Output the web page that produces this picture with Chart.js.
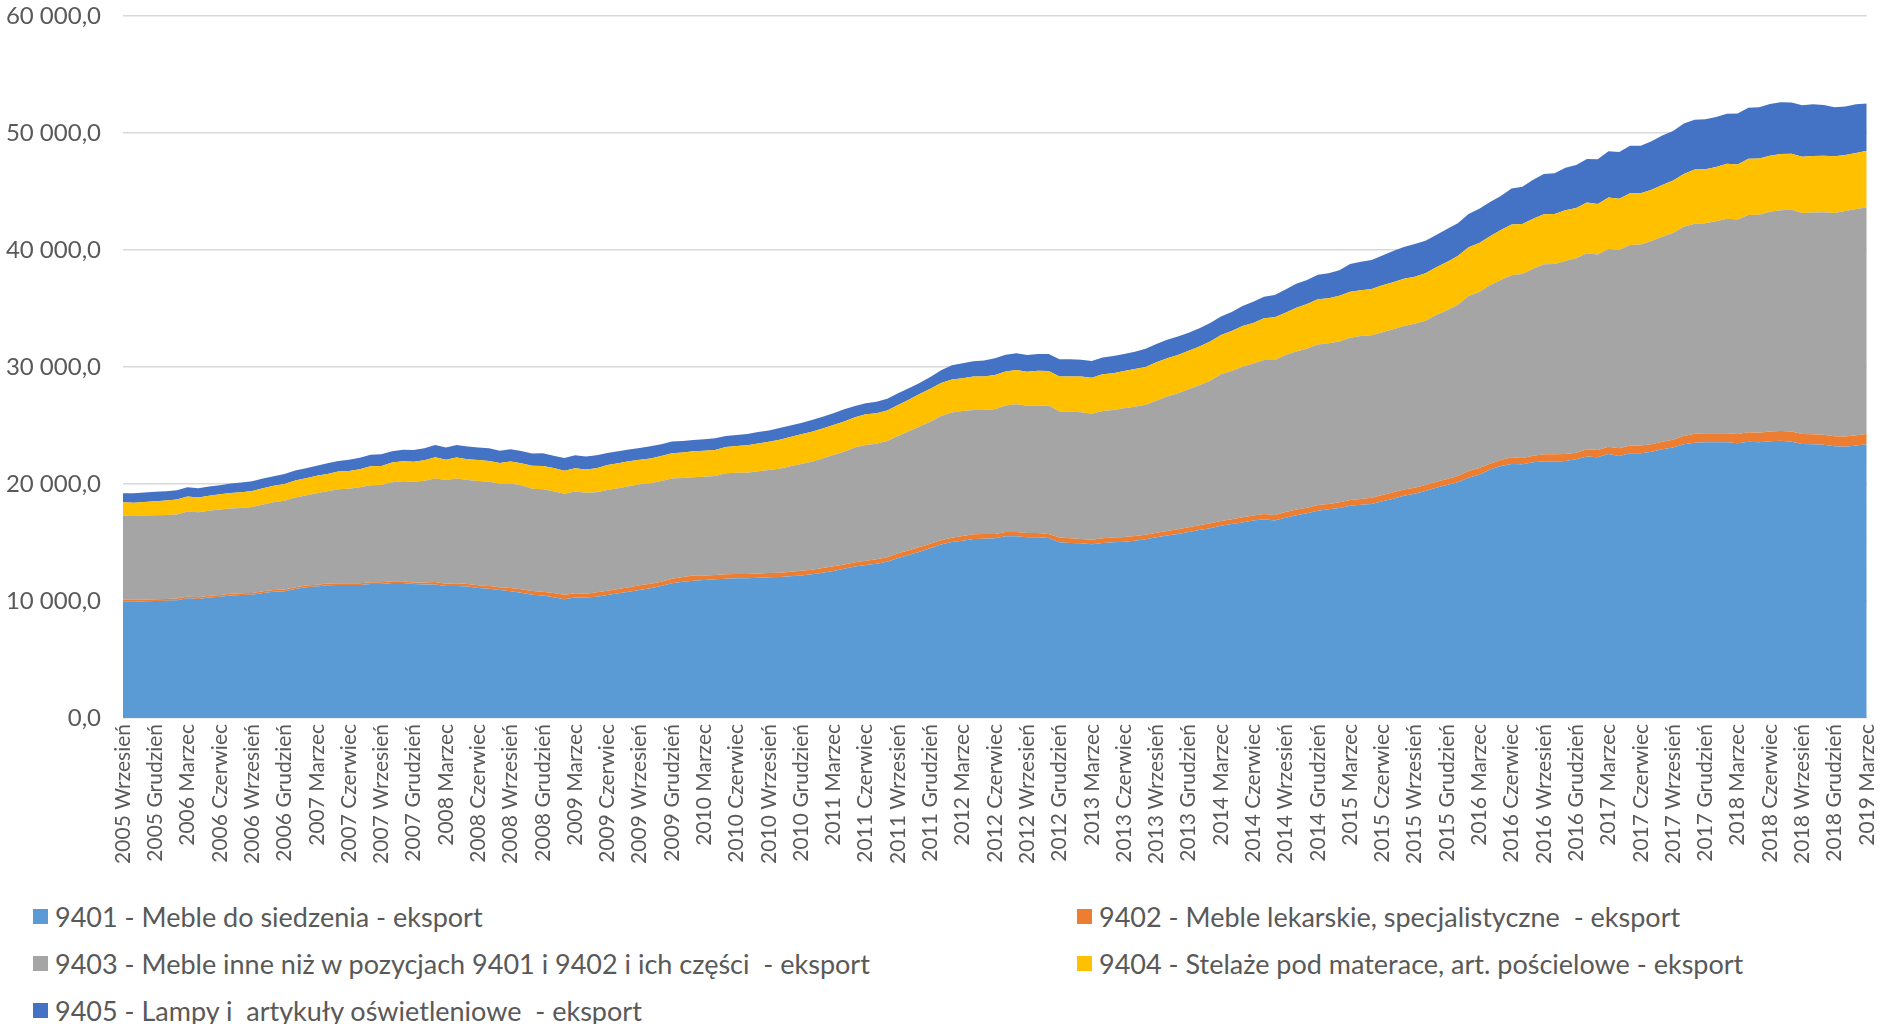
<!DOCTYPE html>
<html lang="pl">
<head>
<meta charset="utf-8">
<title>Eksport mebli 9401-9405</title>
<script src="https://cdn.jsdelivr.net/npm/chart.js@4.4.1/dist/chart.umd.min.js"></script>
<style>
  html, body { margin: 0; background: #fff; }
  .wrap { position: relative; width: 1898px; height: 1024px; overflow: hidden; }
  .chart-box { position: absolute; left: 0; top: 0; width: 1898px; height: 880px; }
  #legend {
    position: absolute; left: 33px; top: 893px; margin: 0; padding: 0; list-style: none;
    display: grid; grid-template-columns: 1044px 800px;
  }
  #legend li {
    display: flex; align-items: center; height: 47px;
    font: 27px Lato, sans-serif; color: #595959; white-space: pre;
  }
  #legend .box { width: 15px; height: 15px; margin-right: 7px; flex: none; }
</style>
</head>
<body>
<div class="wrap">
  <div class="chart-box"><canvas id="chart"></canvas></div>
  <ul id="legend"></ul>
</div>
<script>
// monthly series, first point = 2005 Wrzesień, last = 2019 Marzec
const monthNames = ["Styczeń", "Luty", "Marzec", "Kwiecień", "Maj", "Czerwiec",
  "Lipiec", "Sierpień", "Wrzesień", "Październik", "Listopad", "Grudzień"];
const firstYear = 2005;
const firstMonth = 8; // Wrzesień

const eksport9401 = [
  9940, 9940, 9970, 10000, 10030, 10060, 10230, 10170, 10290, 10370, 10460, 10510, 10540, 10680, 10800, 10830, 11030, 11170, 11230, 11340, 11370, 11370, 11370, 11450, 11450, 11540, 11540,
  11450, 11420, 11420, 11280, 11280, 11230, 11110, 11050, 10940, 10830, 10710, 10540, 10460, 10310, 10140, 10290, 10290, 10370, 10510, 10660, 10800, 10940, 11080, 11280, 11510, 11650, 11740,
  11800, 11850, 11910, 11940, 11940, 11990, 12020, 12050, 12110, 12190, 12280, 12420, 12560, 12760, 12940, 13080, 13190, 13360, 13680, 13930, 14220, 14500, 14820, 15040, 15160, 15300, 15330,
  15360, 15530, 15530, 15440, 15440, 15390, 15020, 14960, 14930, 14840, 14960, 15020, 15070, 15160, 15270, 15440, 15590, 15730, 15900, 16070, 16210, 16440, 16580, 16720, 16870, 16980, 16870,
  17120, 17320, 17490, 17720, 17840, 17950, 18150, 18230, 18290, 18520, 18750, 19000, 19170, 19400, 19690, 19910, 20140, 20540, 20800, 21230, 21540, 21710, 21680, 21850, 21940, 21910,
  21970, 22110, 22340, 22280, 22560, 22390, 22620, 22620, 22760, 22960, 23110, 23390, 23530, 23560, 23560, 23560, 23480, 23620, 23560, 23650, 23700, 23620, 23420, 23390, 23360, 23220, 23190, 23280, 23390
];
const eksport9402 = [
  170, 170, 150, 150, 150, 150, 150, 150, 150, 150, 150, 150, 150, 150, 150, 150, 150, 150, 150, 150, 150, 140, 150, 150, 150, 150, 150,
  140, 170, 200, 200, 230, 230, 230, 230, 230, 290, 290, 310, 340, 370, 400, 370, 340, 370, 370, 370, 370, 400, 400, 370, 400, 400, 430,
  370, 370, 370, 370, 370, 370, 370, 370, 400, 400, 400, 400, 400, 370, 370, 370, 370, 370, 400, 400, 400, 400, 370, 370, 400, 400, 400,
  370, 370, 370, 370, 370, 340, 400, 400, 370, 400, 400, 400, 400, 400, 400, 400, 400, 400, 400, 400, 430, 400, 400, 430, 430, 460, 480,
  480, 510, 480, 480, 460, 480, 480, 480, 540, 540, 540, 540, 510, 510, 510, 510, 540, 570, 570, 510, 510, 570, 540, 570, 600, 630,
  600, 570, 630, 630, 630, 660, 660, 660, 630, 660, 680, 710, 770, 770, 770, 770, 800, 800, 830, 830, 830, 860, 860, 860, 860, 860, 860, 880, 880
];
const eksport9403 = [
  7180, 7150, 7180, 7180, 7180, 7180, 7270, 7270, 7270, 7290, 7290, 7290, 7350, 7410, 7490, 7580, 7660, 7690, 7840, 7890, 8030, 8090, 8210, 8290, 8320, 8460, 8550,
  8600, 8690, 8860, 8860, 8950, 8890, 8920, 8920, 8860, 8920, 8890, 8750, 8750, 8690, 8630, 8690, 8630, 8550, 8600, 8600, 8630, 8630, 8580, 8600, 8550, 8460, 8410,
  8460, 8460, 8630, 8660, 8660, 8720, 8800, 8890, 9000, 9120, 9230, 9370, 9520, 9630, 9800, 9890, 9890, 9940, 10030, 10170, 10290, 10430, 10630, 10710, 10680, 10630, 10600,
  10660, 10800, 10910, 10880, 10880, 10970, 10770, 10830, 10830, 10770, 10880, 10910, 11000, 11050, 11110, 11280, 11480, 11620, 11800, 11970, 12190, 12540, 12680, 12880, 12990, 13160, 13250,
  13420, 13500, 13620, 13730, 13730, 13760, 13880, 13930, 13880, 13900, 13930, 13960, 14020, 14050, 14250, 14420, 14620, 14960, 15040, 15240, 15390, 15560, 15730, 15980, 16240, 16270,
  16500, 16610, 16750, 16700, 16900, 16950, 17150, 17180, 17380, 17520, 17660, 17890, 17950, 17950, 18120, 18350, 18320, 18580, 18630, 18780, 18860, 18950, 18890, 18950, 19000, 19090, 19290, 19350, 19370
];
const eksport9404 = [
  1140, 1140, 1170, 1200, 1230, 1280, 1280, 1250, 1280, 1310, 1340, 1340, 1370, 1400, 1400, 1430, 1450, 1480, 1480, 1480, 1510, 1510, 1540, 1620, 1620, 1680, 1710,
  1710, 1740, 1800, 1740, 1800, 1770, 1800, 1770, 1770, 1880, 1880, 1970, 1990, 1990, 1970, 1990, 1990, 2050, 2140, 2140, 2140, 2110, 2110, 2140, 2170, 2190, 2220,
  2220, 2220, 2250, 2280, 2340, 2390, 2420, 2480, 2510, 2540, 2560, 2560, 2560, 2590, 2590, 2620, 2590, 2620, 2650, 2710, 2790, 2820, 2820, 2820, 2790, 2850, 2850,
  2930, 2910, 2930, 2910, 2990, 2960, 2990, 2990, 3050, 3080, 3130, 3130, 3190, 3220, 3220, 3280, 3280, 3280, 3280, 3310, 3360, 3360, 3420, 3480, 3480, 3560, 3650,
  3620, 3730, 3790, 3850, 3850, 3900, 3930, 3930, 3960, 4020, 4020, 4050, 4020, 4050, 4070, 4130, 4190, 4160, 4190, 4190, 4270, 4330, 4270, 4270, 4270, 4270,
  4330, 4300, 4330, 4330, 4390, 4390, 4420, 4390, 4390, 4420, 4500, 4500, 4620, 4620, 4640, 4700, 4700, 4790, 4790, 4790, 4820, 4790, 4790, 4840, 4840, 4840, 4790, 4790, 4840
];
const eksport9405 = [
  770, 800, 800, 800, 800, 800, 800, 800, 800, 770, 800, 830, 830, 830, 830, 860, 860, 860, 860, 910, 910, 970, 970, 1000, 1000, 970, 970,
  1000, 1030, 1050, 1030, 1080, 1080, 1050, 1080, 1050, 1050, 1050, 1030, 1080, 1050, 1080, 1110, 1110, 1110, 1030, 1030, 1000, 1000, 1050, 1000, 1000, 970, 970,
  970, 1000, 940, 940, 970, 970, 970, 1000, 970, 970, 1000, 1000, 1000, 1030, 970, 940, 1000, 1000, 1000, 970, 940, 1000, 1080, 1200, 1280, 1310, 1370,
  1430, 1430, 1430, 1430, 1430, 1450, 1480, 1480, 1430, 1430, 1450, 1480, 1450, 1480, 1570, 1570, 1570, 1570, 1540, 1570, 1570, 1570, 1620, 1710, 1800, 1850, 1910,
  1990, 2050, 2050, 2110, 2140, 2170, 2370, 2420, 2480, 2560, 2680, 2710, 2790, 2790, 2760, 2820, 2790, 2850, 2930, 2930, 2910, 3080, 3190, 3330, 3450, 3480,
  3620, 3680, 3730, 3820, 3960, 3990, 4050, 4050, 4130, 4220, 4220, 4330, 4270, 4270, 4270, 4270, 4360, 4360, 4390, 4420, 4420, 4390, 4420, 4420, 4330, 4190, 4130, 4160, 4050
];

const seriesNames = [
  "9401 - Meble do siedzenia - eksport",
  "9402 - Meble lekarskie, specjalistyczne  - eksport",
  "9403 - Meble inne niż w pozycjach 9401 i 9402 i ich części  - eksport",
  "9404 - Stelaże pod materace, art. pościelowe - eksport",
  "9405 - Lampy i  artykuły oświetleniowe  - eksport"
];
const seriesColors = ["#5b9bd5", "#ed7d31", "#a5a5a5", "#ffc000", "#4472c4"];
const seriesData = [eksport9401, eksport9402, eksport9403, eksport9404, eksport9405];

const labels = eksport9401.map((_, i) => {
  const m = firstMonth + i;
  return firstYear + Math.floor(m / 12) + " " + monthNames[m % 12];
});

const formatPl = (v) => String(v).replace(/\B(?=(\d{3})+(?!\d))/g, " ") + ",0";

const htmlLegend = {
  id: "htmlLegend",
  afterUpdate(chart) {
    const list = document.getElementById("legend");
    list.innerHTML = "";
    chart.data.datasets.forEach((ds) => {
      const li = document.createElement("li");
      const box = document.createElement("span");
      box.className = "box";
      box.style.background = ds.backgroundColor;
      li.appendChild(box);
      li.appendChild(document.createTextNode(ds.label));
      list.appendChild(li);
    });
  },
};

new Chart(document.getElementById("chart"), {
  type: "line",
  data: {
    labels: labels,
    datasets: seriesData.map((data, i) => ({
      label: seriesNames[i],
      data: data,
      backgroundColor: seriesColors[i],
      borderColor: seriesColors[i],
      borderWidth: 0,
      pointRadius: 0,
      tension: 0,
      fill: i === 0 ? "origin" : "-1",
    })),
  },
  options: {
    responsive: true,
    maintainAspectRatio: false,
    animation: false,
    layout: { padding: { top: 0, right: 17, left: 0, bottom: 0 } },
    plugins: {
      legend: { display: false },
      tooltip: { enabled: false },
    },
    scales: {
      x: {
        grid: { display: false, drawTicks: false },
        border: { display: false },
        ticks: {
          autoSkip: false,
          minRotation: 90,
          maxRotation: 90,
          padding: 6,
          color: "#595959",
          font: { family: "Lato", size: 21 },
          callback: function (value, index) {
            return index % 3 === 0 ? this.getLabelForValue(value) : "";
          },
        },
        afterFit: (scale) => { scale.height = 162; },
      },
      y: {
        stacked: true,
        min: 0,
        max: 60000,
        grid: { color: "#d9d9d9", lineWidth: 1.5, drawTicks: false },
        border: { display: false },
        ticks: {
          stepSize: 10000,
          padding: 22,
          color: "#595959",
          font: { family: "Lato", size: 24 },
          callback: (v) => formatPl(v),
        },
        afterFit: (scale) => {
          scale.width = 123;
          scale.paddingTop = 16;
        },
      },
    },
  },
  plugins: [htmlLegend],
});
</script>
</body>
</html>
